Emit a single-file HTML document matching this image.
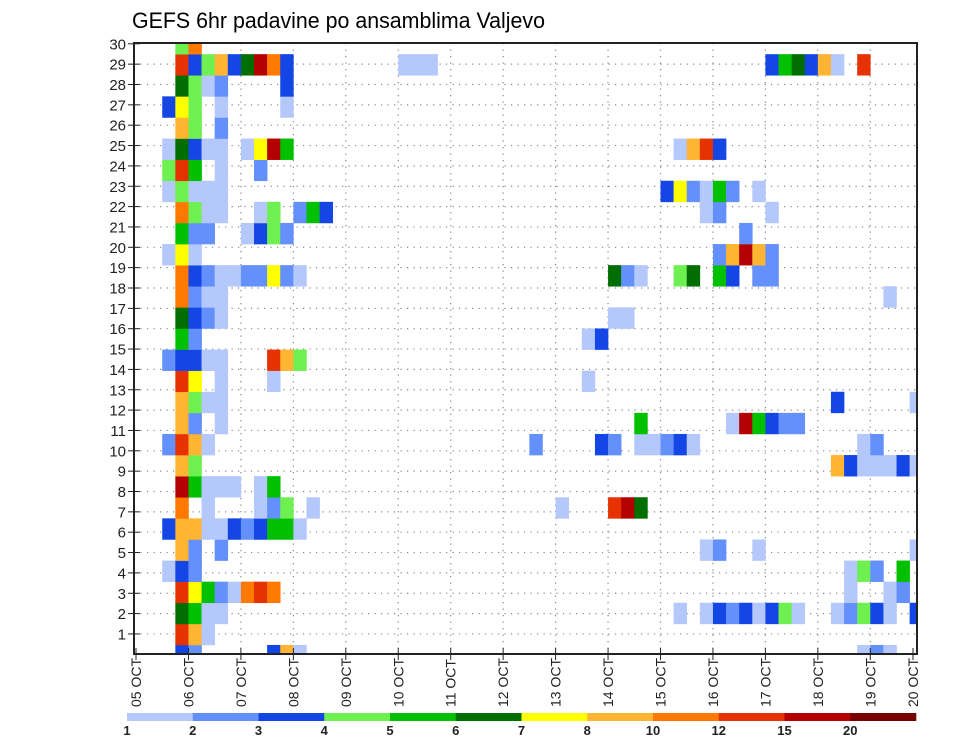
<!DOCTYPE html>
<html><head><meta charset="utf-8">
<style>
html,body{margin:0;padding:0;background:#fff;}
svg{display:block;font-family:"Liberation Sans",sans-serif;}
</style></head>
<body>
<svg id="chart" width="960" height="742" viewBox="0 0 960 742" xmlns="http://www.w3.org/2000/svg">
<text x="132" y="28" font-size="22" textLength="413" lengthAdjust="spacingAndGlyphs">GEFS 6hr padavine po ansamblima Valjevo</text>
<defs><clipPath id="plotclip"><rect x="134" y="43" width="783" height="611"/></clipPath></defs>
<g id="grid"></g>
<g id="cells" clip-path="url(#plotclip)"></g>
<rect x="134" y="43" width="783" height="611" fill="none" stroke="#222" stroke-width="2"/>
<g id="yaxis"></g>
<g id="xaxis"></g>
<g id="legend"></g>
</svg>
<script>
// Data: categories and values
const levelColors = ["#b4c8fc","#6490fc","#1446e6","#6ef050","#00c000","#006e00","#ffff00","#ffb432","#ff7800","#e63200","#b40000","#780000"];
const levelLabels = ["1","2","3","4","5","6","7","8","10","12","15","20"];
const dayLabels = ["05 OCT","06 OCT","07 OCT","08 OCT","09 OCT","10 OCT","11 OCT","12 OCT","13 OCT","14 OCT","15 OCT","16 OCT","17 OCT","18 OCT","19 OCT","20 OCT"];
const memberTickLabels = ["1","2","3","4","5","6","7","8","9","10","11","12","13","14","15","16","17","18","19","20","21","22","23","24","25","26","27","28","29","30"];
// per member (0..29): "timestep:levelCode" ; code 1..9,a,b,c => level index
const m0  = "3:3,4:2,10:3,11:8,12:1,55:1,56:2,57:1";
const m1  = "3:a,4:8,5:1";
const m2  = "3:6,4:5,5:1,6:1,41:1,43:1,44:3,45:2,46:3,47:1,48:3,49:4,50:1,53:1,54:2,55:4,56:3,57:1,59:3";
const m3  = "3:a,4:7,5:5,6:2,7:1,8:9,9:a,10:9,54:1,57:1,58:2";
const m4  = "2:1,3:3,4:2,54:1,55:4,56:2,58:5";
const m5  = "3:8,4:2,6:2,43:1,44:2,47:1,59:1";
const m6  = "2:3,3:8,4:8,5:1,6:1,7:3,8:2,9:3,10:5,11:5,12:1";
const m7  = "3:9,5:1,9:1,10:2,11:4,13:1,32:1,36:a,37:b,38:6";
const m8  = "3:b,4:5,5:1,6:1,7:1,9:1,10:5";
const m9  = "3:8,4:4,53:8,54:3,55:1,56:1,57:1,58:3,59:1";
const m10 = "2:2,3:a,4:8,5:1,30:2,35:3,36:2,38:1,39:1,40:2,41:3,42:1,55:1,56:2";
const m11 = "3:8,4:2,6:1,38:5,45:1,46:b,47:5,48:3,49:2,50:2";
const m12 = "3:8,4:4,5:1,6:1,53:3,59:1";
const m13 = "3:a,4:7,6:1,10:1,34:1";
const m14 = "2:2,3:3,4:3,5:1,6:1,10:a,11:8,12:4";
const m15 = "3:5,4:2,34:1,35:3";
const m16 = "3:6,4:3,5:2,6:1,36:1,37:1";
const m17 = "3:9,4:2,5:1,6:1,57:1";
const m18 = "3:9,4:3,5:2,6:1,7:1,8:2,9:2,10:7,11:2,12:1,36:6,37:2,38:1,41:4,42:6,44:5,45:3,47:2,48:2";
const m19 = "2:1,3:7,4:1,44:2,45:8,46:b,47:8,48:2";
const m20 = "3:5,4:2,5:2,8:1,9:3,10:4,11:2,46:2";
const m21 = "3:9,4:4,5:1,6:1,9:1,10:4,12:2,13:5,14:3,43:1,44:2,48:1";
const m22 = "2:1,3:4,4:1,5:1,6:1,40:3,41:7,42:2,43:1,44:5,45:2,47:1";
const m23 = "2:4,3:a,4:5,6:1,9:2";
const m24 = "2:1,3:6,4:3,5:1,6:1,8:1,9:7,10:b,11:5,41:1,42:8,43:a,44:3";
const m25 = "3:8,4:4,6:2";
const m26 = "2:3,3:7,4:4,6:1,11:1";
const m27 = "3:6,4:4,5:1,6:2,11:3";
const m28 = "3:a,4:3,5:4,6:8,7:3,8:6,9:b,10:9,11:3,20:1,21:1,22:1,48:3,49:5,50:6,51:3,52:8,53:1,55:a";
const m29 = "3:4,4:9";
const members = [m0,m1,m2,m3,m4,m5,m6,m7,m8,m9,m10,m11,m12,m13,m14,m15,m16,m17,m18,m19,m20,m21,m22,m23,m24,m25,m26,m27,m28,m29];

const NS = "http://www.w3.org/2000/svg";
function xDay(d){ return 136 + 52.45*d; }          // days since 05 OCT 00Z
function yMember(v){ return 655.5 - 21.1*v; }      // member index
function yTick(k){ return 654.3 - 20.35*k; }       // axis label position
function mk(tag, attrs, parent){ const e=document.createElementNS(NS,tag); for(const k in attrs) e.setAttribute(k,attrs[k]); parent.appendChild(e); return e; }

const grid = document.getElementById('grid');
for(let k=1;k<=29;k++){
  const l = mk('line',{x1:134,x2:917,y1:yTick(k),y2:yTick(k),stroke:'#888','stroke-width':1.2,'stroke-dasharray':'1.2 5.3'},grid);
  
  
}
for(let d=1;d<15;d++){
  const l = mk('line',{x1:xDay(d),x2:xDay(d),y1:43,y2:654,stroke:'#888','stroke-width':1.2,'stroke-dasharray':'1.2 5.3'},grid);
  
  
}

const cells = document.getElementById('cells');
members.forEach((s,m)=>{
  s.split(',').forEach(p=>{
    const [t,c] = p.split(':');
    const lv = parseInt(c,16)-1;
    const ti = +t;
    const x0 = xDay(ti/4), x1 = xDay((ti+1)/4);
    const y0 = yMember(m+0.5), y1 = yMember(m-0.5);
    const r = mk('rect',{x:x0,y:y0,width:x1-x0+0.3,height:y1-y0+0.3,fill:levelColors[lv]},cells);
    
    
  });
});

const ya = document.getElementById('yaxis');
memberTickLabels.forEach((lab,i)=>{
  const y = yTick(i+1);
  const tk = mk('line',{x1:128,x2:140,y1:y,y2:y,stroke:'#222','stroke-width':1},ya);
  
  
  const t = mk('text',{x:126,y:y+5.5,'font-size':15,'text-anchor':'end',fill:'#222'},ya);
  t.textContent = lab;
  
  
});

const xa = document.getElementById('xaxis');
dayLabels.forEach((lab,i)=>{
  let x = xDay(i);
  if(x>916) x = 913;
  const tk = mk('line',{x1:x,x2:x,y1:648,y2:660,stroke:'#222','stroke-width':1},xa);
  
  
  const t = mk('text',{x:0,y:0,'font-size':14,'text-anchor':'start',fill:'#222',transform:`translate(${x+5},707) rotate(-90)`},xa);
  t.textContent = lab;
  
  
});

const lg = document.getElementById('legend');
const segW = (916-127)/levelColors.length;
levelColors.forEach((c,i)=>{
  const r = mk('rect',{x:127+i*segW,y:713,width:segW+0.3,height:8,fill:c},lg);
  
  
  const t = mk('text',{x:127+i*segW,y:735,'font-size':13,'font-weight':'bold','text-anchor':'middle',fill:'#222'},lg);
  t.textContent = levelLabels[i];
  
  
});
</script>
</body></html>
